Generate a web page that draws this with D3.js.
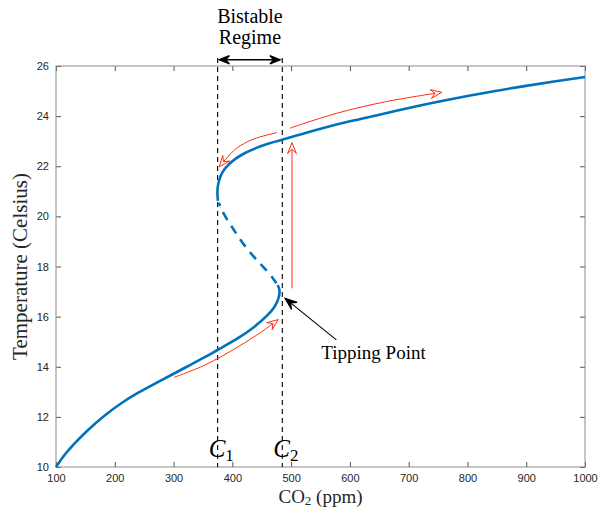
<!DOCTYPE html>
<html><head><meta charset="utf-8">
<script src="https://cdn.jsdelivr.net/npm/d3@7"></script>
<style>body{margin:0;background:#fff}</style>
</head><body>
<svg id="chart" width="599" height="508"></svg>
<script>
// ---- data ----
const co2Ticks = [100,200,300,400,500,600,700,800,900,1000];
const tempTicks = [10,12,14,16,18,20,22,24,26];
const c1 = 375, c2 = 485;
// stable lower branch [CO2, Temp]
const lowerBranch = [[100,10],[112,10.42],[126.7,10.83],[155,11.5],[183.4,12.08],[211.8,12.57],[240,12.97],[268.5,13.33],[296.9,13.68],[325,14.03],[353.5,14.38],[374.5,14.67],[410,15.13],[438.6,15.6],[461.3,16.07],[472.6,16.4],[477.5,16.65],[480,16.85],[480.5,17.0],[479.5,17.15],[477,17.26]];
// unstable middle branch
const middleBranch = [[475,17.33],[470,17.5],[462,17.75],[448,18.1],[430,18.55],[414,19.05],[400,19.55],[389,19.95],[381,20.3],[377,20.55]];
// stable upper branch
const upperBranch = [[375.5,20.62],[374.3,20.9],[375,21.2],[378,21.5],[383,21.78],[392,22.05],[405,22.3],[420,22.52],[440,22.73],[460,22.9],[484,23.05],[520,23.3],[550,23.5],[600,23.8],[650,24.05],[700,24.33],[750,24.58],[800,24.8],[850,25.02],[900,25.21],[950,25.39],[1000,25.56]];
// red hysteresis arrows (data coords)
const arrowLowUp = [[301,13.58],[353.5,14.07],[410,14.8],[450,15.4],[478,15.88]];
const arrowJump = [[501.5,17.13],[501.5,22.94]];
const arrowUpRight = [[498,23.52],[577,24.11],[662,24.58],[756,24.95]];
const arrowUpLeft = [[475.5,23.34],[435.6,23.08],[407.4,22.72],[387.5,22.25],[377.8,21.98]];
const tipArrow = [[577,15.07],[489.6,16.73]];
const regimeArrow = [[378,26.25],[481,26.25]];
const dashTop = 26.32;

// ---- layout ----
const svg = d3.select("#chart");
const L = 56, R = 585, T = 66, B = 467;
const x = d3.scaleLinear().domain([100,1000]).range([L,R]);
const y = d3.scaleLinear().domain([10,26]).range([B,T]);

const tickFont = "'Liberation Sans', Arial, Helvetica, sans-serif";
const serif = "'Liberation Serif', 'Times New Roman', serif";

// axes
const ax = svg.append("g");
function styleAxis(g){
  g.select(".domain").remove();
  g.selectAll(".tick line").attr("stroke","#262626").attr("stroke-width",0.8);
  g.selectAll(".tick text").attr("fill","#262626").style("font-family",tickFont).style("font-size","11px");
}
ax.append("g").attr("transform",`translate(0,${B})`)
  .call(d3.axisBottom(x).tickValues(co2Ticks).tickSizeInner(-5).tickSizeOuter(0).tickPadding(7).tickFormat(d3.format("d")))
  .call(styleAxis);
ax.append("g").attr("transform",`translate(0,${T})`)
  .call(d3.axisTop(x).tickValues(co2Ticks).tickSizeInner(-5).tickSizeOuter(0).tickFormat(""))
  .call(styleAxis);
ax.append("g").attr("transform",`translate(${L},0)`)
  .call(d3.axisLeft(y).tickValues(tempTicks).tickSizeInner(-5).tickSizeOuter(0).tickPadding(7).tickFormat(d3.format("d")))
  .call(styleAxis);
ax.append("g").attr("transform",`translate(${R},0)`)
  .call(d3.axisRight(y).tickValues(tempTicks).tickSizeInner(-5).tickSizeOuter(0).tickFormat(""))
  .call(styleAxis);
svg.append("rect").attr("x",L).attr("y",T).attr("width",R-L).attr("height",B-T)
  .attr("fill","none").attr("stroke","#8c8c8c").attr("stroke-width",1);

// axis labels
const xl = svg.append("text").attr("x",(L+R)/2).attr("y",503).attr("text-anchor","middle")
  .style("font-family",serif).style("font-size","19px").attr("fill","#262626");
xl.append("tspan").text("CO");
xl.append("tspan").attr("dy",2).style("font-size","13px").text("2");
xl.append("tspan").attr("dy",-2).text(" (ppm)");
svg.append("text").attr("transform",`translate(27,${(T+B)/2}) rotate(-90)`).attr("text-anchor","middle")
  .style("font-family",serif).style("font-size","21px").attr("fill","#262626").text("Temperature (Celsius)");

// vertical dashed lines
[c1,c2].forEach(c=>{
  svg.append("line").attr("x1",x(c)).attr("x2",x(c)).attr("y1",y(dashTop)).attr("y2",B)
    .attr("stroke","#000").attr("stroke-width",1.1).attr("stroke-dasharray","5,4");
});

// curves
const line = d3.line().x(d=>x(d[0])).y(d=>y(d[1])).curve(d3.curveCatmullRom.alpha(0.5));
const smooth = d3.line().x(d=>x(d[0])).y(d=>y(d[1])).curve(d3.curveBasis);
const blue = "#0072BD";
svg.append("path").datum(lowerBranch).attr("d",smooth).attr("fill","none").attr("stroke",blue).attr("stroke-width",2.6);
svg.append("path").datum(upperBranch).attr("d",smooth).attr("fill","none").attr("stroke",blue).attr("stroke-width",2.6);
svg.append("path").datum(middleBranch).attr("d",smooth).attr("fill","none").attr("stroke",blue).attr("stroke-width",2.6).attr("stroke-dasharray","9,7");

// arrows
function arrow(data, color, filled, width, headL, headW, both){
  const p = svg.append("path").datum(data).attr("d",line).attr("fill","none").attr("stroke",color).attr("stroke-width",width);
  const node = p.node(); const len = node.getTotalLength();
  function head(atEnd){
    const a = node.getPointAtLength(atEnd?len:0);
    const b = node.getPointAtLength(atEnd?Math.max(0,len-3):Math.min(len,3));
    let dx=a.x-b.x, dy=a.y-b.y; const n=Math.hypot(dx,dy); dx/=n; dy/=n;
    const px=-dy, py=dx;
    const pts=[[a.x,a.y],[a.x-headL*dx+headW*px,a.y-headL*dy+headW*py],[a.x-0.6*headL*dx,a.y-0.6*headL*dy],[a.x-headL*dx-headW*px,a.y-headL*dy-headW*py]];
    svg.append("polygon").attr("points",pts.map(q=>q.join(",")).join(" "))
      .attr("fill",filled?color:"#fff").attr("stroke",color).attr("stroke-width",width).attr("stroke-linejoin","miter");
  }
  head(true); if(both) head(false);
}
const red = "#FF2B14";
arrow(arrowLowUp, red, false, 1, 11, 4.5);
arrow(arrowJump, red, false, 1, 11, 4.5);
arrow(arrowUpRight, red, false, 1, 11, 4.5);
arrow(arrowUpLeft, red, false, 1, 11, 4.5);
arrow(tipArrow, "#000", true, 1.1, 12, 4.5);
arrow(regimeArrow, "#000", true, 1.4, 10, 4, true);

// annotations
svg.append("text").attr("x",x(tipArrow[0][0])-15).attr("y",359).style("font-family",serif).style("font-size","19px").attr("fill","#000").text("Tipping Point");
const mid = x((c1+c2)/2);
svg.append("text").attr("x",mid).attr("y",23).attr("text-anchor","middle").style("font-family",serif).style("font-size","20px").text("Bistable");
svg.append("text").attr("x",mid).attr("y",44).attr("text-anchor","middle").style("font-family",serif).style("font-size","20px").text("Regime");
[[c1,"1"],[c2,"2"]].forEach(([c,s])=>{
  const t = svg.append("text").attr("x",x(c)-9).attr("y",457).style("font-family",serif).style("font-size","25px").attr("fill","#000");
  t.append("tspan").style("font-style","italic").text("C");
  t.append("tspan").attr("dy",4).style("font-size","17px").text(s);
});
</script>
</body></html>
